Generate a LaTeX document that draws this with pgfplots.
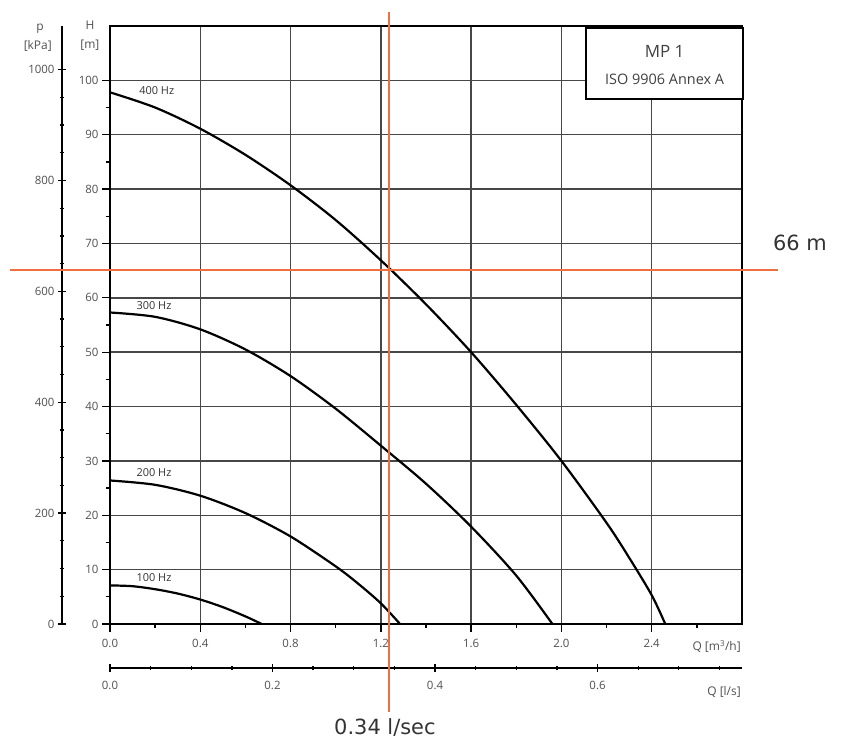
\documentclass[border=0pt]{standalone}
\usepackage{fontspec}
\setmainfont{Open Sans}
\newfontfamily\notefont{DejaVu Sans}
\usepackage{pgfplots}
\pgfplotsset{compat=1.18}
\definecolor{oporange}{RGB}{238,112,64}
\definecolor{lab}{RGB}{80,80,80}

\pgfplotsset{
  pumpaxis/.style={
    scale only axis,
    anchor=south west,
    tick align=outside,
    major tick length=8bp,
    minor tick length=4bp,
    every tick/.style={black, line width=1.3bp},
    tick label style={font=\fontsize{11.5}{13}\selectfont, text=lab},
    /pgf/number format/assume math mode=true,
    /pgf/number format/1000 sep={},
  },
}

\begin{document}
\begin{tikzpicture}
\path (0,0) rectangle (842bp,743bp);

% pressure scale on the far left
\begin{axis}[pumpaxis,
    at={(62bp,119bp)}, width=40bp, height=598bp,
    xmin=0, xmax=1, ymin=0, ymax=1078.7,
    hide x axis, axis y line=left,
    axis line style={-, line width=2bp, black},
    ytick={0,200,400,600,800,1000}, minor y tick num=3,
    yticklabel style={xshift=0bp},
]
\end{axis}

% flow in l/s below
\begin{axis}[pumpaxis,
    at={(110bp,75bp)}, width=632bp, height=20bp,
    xmin=0, xmax=0.77778, ymin=0, ymax=1,
    hide y axis, axis x line=bottom,
    axis line style={-, line width=2bp, black},
    xtick={0,0.2,0.4,0.6},
    minor xtick={0.05,0.1,0.15,0.25,0.3,0.35,0.45,0.5,0.55,0.65,0.7,0.75},
    xticklabel style={yshift=-6bp, /pgf/number format/.cd, fixed, fixed zerofill, precision=1},
]
\end{axis}

\begin{axis}[pumpaxis,
    at={(110bp,119bp)}, width=632bp, height=598bp,
    xmin=0, xmax=2.8, ymin=0, ymax=110,
    axis line style={line width=2.2bp, black},
    tick pos=left, clip=false,
    xtick={0,0.4,0.8,1.2,1.6,2.0,2.4},
    minor xtick={0.2,0.6,1.0,1.4,1.8,2.2,2.6},
    ytick={0,10,20,30,40,50,60,70,80,90,100},
    minor y tick num=1,
    xticklabel style={yshift=-4bp, /pgf/number format/.cd, fixed, fixed zerofill, precision=1},
    grid=major,
    major grid style={line width=1.4bp, black!72},
]
\addplot[black, line width=2.2bp, smooth] coordinates {
  (0,97.8) (0.2,95.0) (0.4,91.1) (0.6,86.3) (0.8,80.7) (1.0,74.3) (1.2,66.9)
  (1.4,58.8) (1.6,50.0) (1.8,40.3) (2.0,30.0) (2.2,18.6) (2.3,12.2) (2.4,5.3) (2.46,0)};
\addplot[black, line width=2.2bp, smooth] coordinates {
  (0,57.3) (0.2,56.5) (0.4,54.2) (0.6,50.5) (0.8,45.6) (1.0,39.6) (1.2,32.8)
  (1.4,25.8) (1.6,17.9) (1.8,8.9) (1.96,0)};
\addplot[black, line width=2.2bp, smooth] coordinates {
  (0,26.4) (0.2,25.6) (0.4,23.6) (0.6,20.4) (0.8,16.1) (1.0,10.6) (1.1,7.4)
  (1.2,3.8) (1.285,0)};
\addplot[black, line width=2.2bp, smooth] coordinates {
  (0,7.1) (0.1,6.95) (0.2,6.4) (0.3,5.6) (0.4,4.5) (0.5,3.1) (0.6,1.4) (0.672,0)};

\node[font=\fontsize{11}{12}\selectfont, text=black!80] at (axis cs:0.207,98.2) {400 Hz};
\node[font=\fontsize{11}{12}\selectfont, text=black!80] at (axis cs:0.195,58.6) {300 Hz};
\node[font=\fontsize{11}{12}\selectfont, text=black!80] at (axis cs:0.195,27.8) {200 Hz};
\node[font=\fontsize{11}{12}\selectfont, text=black!80] at (axis cs:0.195,8.6) {100 Hz};

\draw[fill=white, line width=2bp] (axis cs:2.109,96.6) rectangle (axis cs:2.805,109.7);
\node[font=\fontsize{17}{20}\selectfont, text=black!75] at (axis cs:2.457,105.3) {MP 1};
\node[font=\fontsize{14.5}{16}\selectfont, text=black!75] at (axis cs:2.457,100.1) {ISO 9906 Annex A};

% axis titles
\node[font=\fontsize{12}{13}\selectfont, text=lab] at (axis cs:-0.089,110.2) {H};
\node[font=\fontsize{12}{13}\selectfont, text=lab] at (axis cs:-0.089,106.4) {[m]};
\node[font=\fontsize{12}{13}\selectfont, text=lab] at (axis cs:-0.31,109.5) {p};
\node[font=\fontsize{12}{13}\selectfont, text=lab] at (axis cs:-0.32,106.4) {[kPa]};
\node[font=\fontsize{12}{13}\selectfont, text=lab, anchor=east] at (axis cs:2.81,-4.2) {Q [m\textsuperscript{3}/h]};
\node[font=\fontsize{12}{13}\selectfont, text=lab, anchor=east] at (axis cs:2.81,-12.5) {Q [l/s]};

% operating point
\addplot[oporange, line width=2.2bp] coordinates {(1.236,-16.2) (1.236,112.6)};
\addplot[oporange, line width=2.2bp] coordinates {(-0.443,65.1) (2.96,65.1)};
\node[font=\notefont\fontsize{21}{24}\selectfont, text=black!80] at (axis cs:3.057,70.1) {66 m};
\node[font=\notefont\fontsize{21}{24}\selectfont, text=black!80] at (axis cs:1.218,-19.1) {0.34 l/sec};
\end{axis}
\end{tikzpicture}
\end{document}
